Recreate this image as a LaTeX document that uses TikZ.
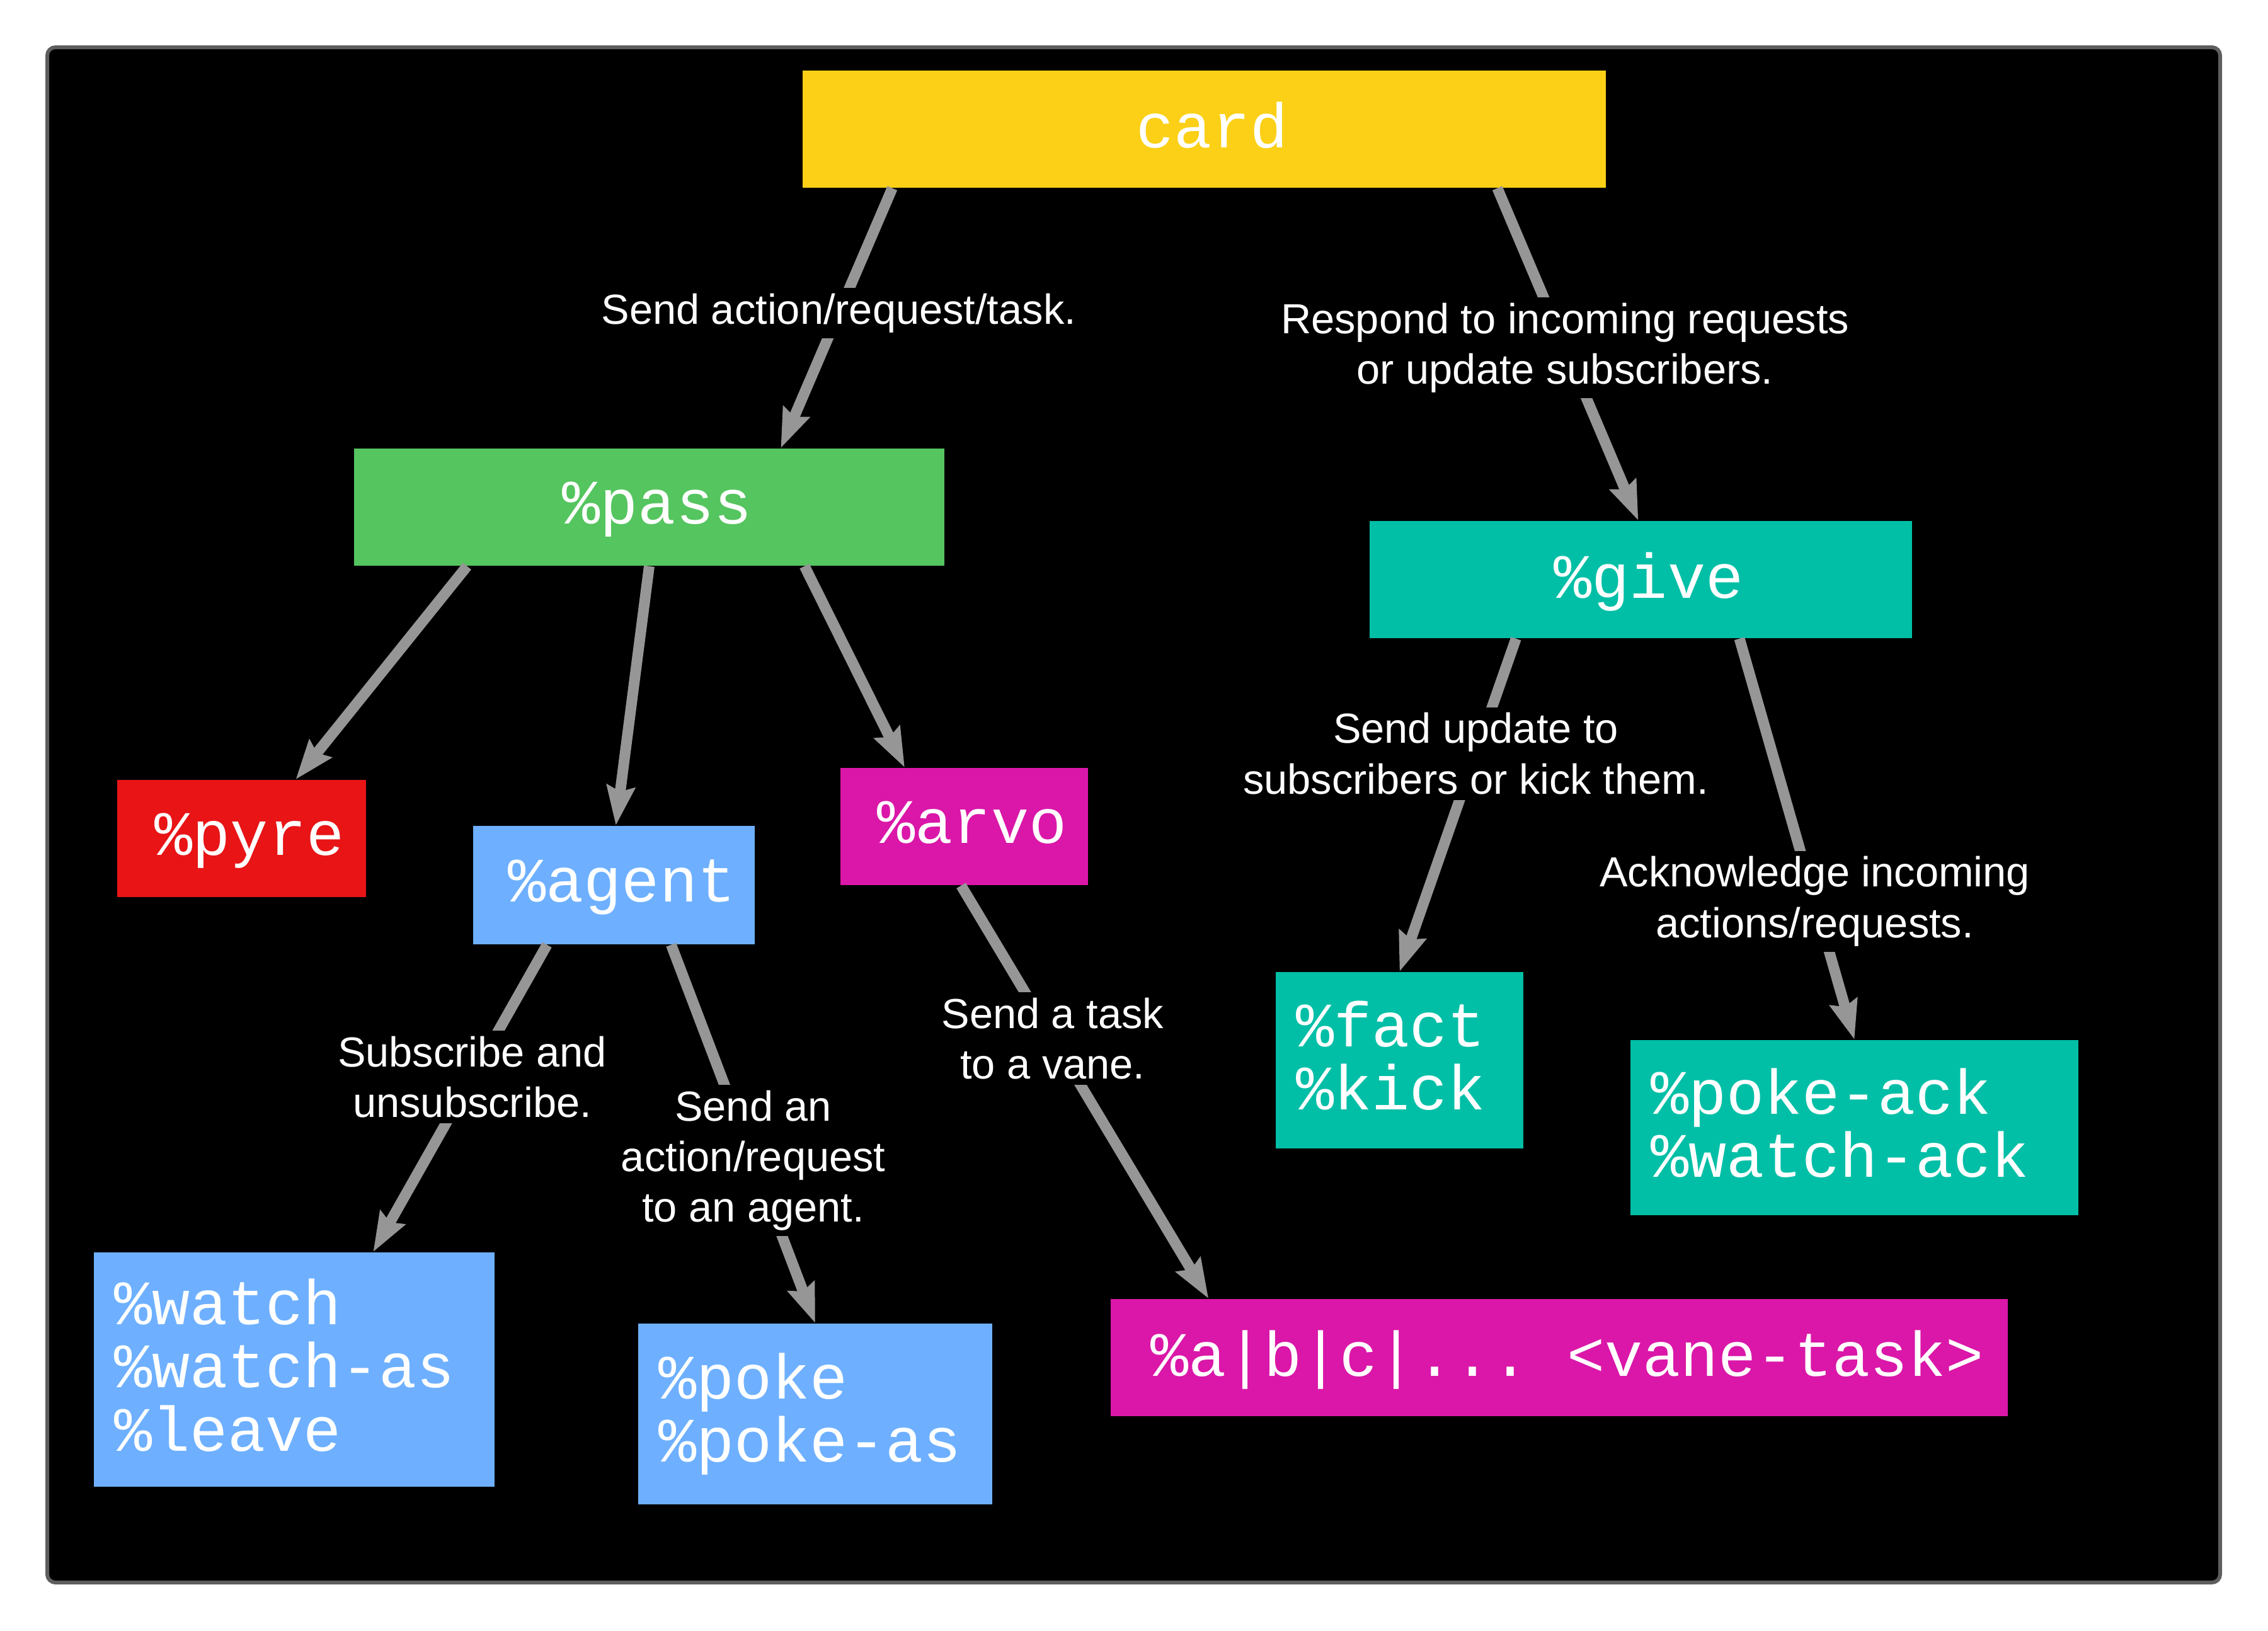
\documentclass[tikz,border=0pt]{standalone}
\usepackage{fontspec}
\setmainfont{Liberation Sans}
\newfontfamily\codefont{Liberation Mono}
\usepackage{tikz}
\usetikzlibrary{arrows.meta}
\definecolor{cardyellow}{RGB}{251,208,22}
\definecolor{passgreen}{RGB}{85,197,95}
\definecolor{giveteal}{RGB}{0,191,166}
\definecolor{pyrered}{RGB}{232,20,22}
\definecolor{agentblue}{RGB}{110,176,255}
\definecolor{arvopink}{RGB}{218,23,168}
\definecolor{arrowgray}{RGB}{150,150,150}
\definecolor{framegray}{RGB}{94,94,94}

\tikzset{
    tbox/.style={rectangle, fill=#1, text=white, inner sep=0pt, text depth=0.13cm,
        minimum height=1.86cm, font=\codefont\fontsize{28.5}{28.5}\selectfont,
        execute at begin node={\hspace*{0.25cm}}},
    mbox/.style={rectangle, fill=#1, text=white, inner sep=0pt, inner xsep=0.32cm,
        align=left, font=\codefont\fontsize{28.5}{28.5}\selectfont,
        execute at end node={\rule[-0.15cm]{0pt}{0.15cm}}},
    lbl/.style={fill=black, text=white, inner sep=0.09cm, align=center,
        font=\fontsize{19}{22.8}\selectfont},
    flow/.style={draw=arrowgray, line width=0.17cm,
        -{Stealth[length=0.62cm, width=0.44cm, inset=0.08cm]}}
}

\begin{document}
\begin{tikzpicture}[x=1cm, y=-1cm]
    % Page and frame
    \fill[white] (0,0) rectangle (36,25.88);
    \useasboundingbox (0,0) rectangle (36,25.88);
    \draw[framegray, line width=0.06cm, fill=black, rounded corners=0.13cm] (0.75,0.75) rectangle (35.24,25.12);

    % Top level
    \node[tbox=cardyellow, minimum width=12.75cm] (card) at (19.115,2.05) {card};
    \node[tbox=passgreen, minimum width=9.37cm] (pass) at (10.305,8.05) {\%pass};
    \node[tbox=giveteal, minimum width=8.61cm] (give) at (26.045,9.20) {\%give};

    % Second level
    \node[tbox=pyrered, minimum width=3.95cm] (pyre) at (3.835,13.31) {\%pyre};
    \node[tbox=agentblue, minimum width=4.47cm, minimum height=1.88cm] (agent) at (9.745,14.05) {\%agent};
    \node[tbox=arvopink, minimum width=3.93cm] (arvo) at (15.305,13.12) {\%arvo};
    \node[mbox=giveteal, text width=3.29cm, minimum height=2.80cm] (fact) at (22.215,16.83) {\%fact\\\%kick};
    \node[mbox=giveteal, text width=6.47cm, minimum height=2.78cm] (pokeack) at (29.435,17.90) {\%poke-ack\\\%watch-ack};

    % Third level
    \node[mbox=agentblue, text width=5.72cm, minimum height=3.72cm] (watch) at (4.67,21.74) {\%watch\\\%watch-as\\\%leave};
    \node[mbox=agentblue, text width=4.98cm, minimum height=2.87cm] (poke) at (12.94,22.445) {\%poke\\\%poke-as};
    \node[tbox=arvopink, minimum width=14.24cm] (vane) at (24.75,21.55) {\%a|b|c|...~<vane-task>};

    % Connectors
    \draw[flow] ([xshift=1.43cm]card.south west) -- node[lbl, pos=0.48] {Send action/request/task.} ([xshift=6.78cm]pass.north west);
    \draw[flow] ([xshift=-1.73cm]card.south east) -- node[lbl, pos=0.48] {Respond to incoming requests\\or update subscribers.} ([xshift=-0.04cm]give.north);
    \draw[flow] ([xshift=1.80cm]pass.south west) -- ([xshift=2.84cm]pyre.north west);
    \draw[flow] (pass.south) -- ([xshift=0.03cm]agent.north);
    \draw[flow] ([xshift=2.465cm]pass.south) -- ([xshift=-0.945cm]arvo.north);
    \draw[flow] ([xshift=2.33cm]give.south west) -- node[lbl, pos=0.345] {Send update to\\subscribers or kick them.} (fact.north);
    \draw[flow] ([xshift=1.565cm]give.south) -- node[lbl, pos=0.655] {Acknowledge incoming\\actions/requests.} (pokeack.north);
    \draw[flow] ([xshift=1.18cm]agent.south west) -- node[lbl, pos=0.43] {Subscribe and\\unsubscribe.} ([xshift=4.44cm]watch.north west);
    \draw[flow] ([xshift=3.15cm]agent.south west) -- node[lbl, pos=0.57] {Send an\\action/request\\to an agent.} (poke.north);
    \draw[flow] ([xshift=-0.05cm]arvo.south) -- node[lbl, pos=0.37] {Send a task\\to a vane.} ([xshift=1.56cm]vane.north west);
\end{tikzpicture}
\end{document}
